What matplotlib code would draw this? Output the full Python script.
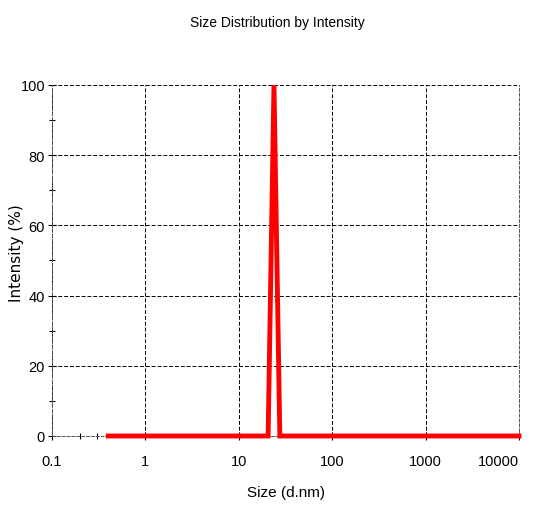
import matplotlib
matplotlib.use('Agg')
import matplotlib.pyplot as plt
from matplotlib.ticker import FixedLocator, NullFormatter

plt.rcParams['font.family'] = ['Liberation Sans', 'DejaVu Sans']

size_nm = [0.4, 20.6, 23.8, 27.5, 10000]
intensity = [0, 0, 100, 0, 0]
xticks = [0.1, 1, 10, 100, 1000, 10000]
xlabels = ['0.1', '1', '10', '100', '1000', '10000']
yticks = [0, 20, 40, 60, 80, 100]

fig = plt.figure(figsize=(5.34, 5.06), dpi=100)
ax = fig.add_axes([0.0974, 0.1364, 0.8745, 0.6937])

ax.plot(size_nm, intensity, color='#ff0000', lw=3.5, solid_joinstyle='miter',
        zorder=3, clip_on=False)
ax.set_xscale('log')
ax.set_xlim(0.1, 10000)
ax.set_ylim(0, 100)
ax.set_xticks(xticks)
ax.set_xticklabels(xlabels)
ax.set_yticks(yticks)
ax.xaxis.set_minor_locator(FixedLocator([0.2, 0.3]))
ax.xaxis.set_minor_formatter(NullFormatter())
ax.yaxis.set_minor_locator(FixedLocator([10, 30, 50, 70, 90]))

ax.grid(True, which='major', color='black', ls=(0, (4, 2)), lw=0.7)
for s in ax.spines.values():
    s.set_linestyle((0, (3, 2)))
    s.set_linewidth(0.7)
    s.set_color('#555555')
ax.spines['top'].set_visible(False)

ax.tick_params(which='both', direction='inout', length=6, width=0.8, labelsize=10.5, pad=2)
ax.tick_params(which='minor', length=5)
ax.tick_params(axis='x', pad=10)
ax.get_xticklabels()[-1].set_horizontalalignment('right')

ax.set_xlabel('Size (d.nm)', fontsize=11, labelpad=12)
fig.text(0.03, 0.50, 'Intensity (%)', rotation=90, ha='center', va='center',
         fontsize=11, fontfamily='DejaVu Sans')
fig.text(0.52, 0.955, 'Size Distribution by Intensity', ha='center', va='center', fontsize=10)

fig.savefig('out.png', dpi=100)
